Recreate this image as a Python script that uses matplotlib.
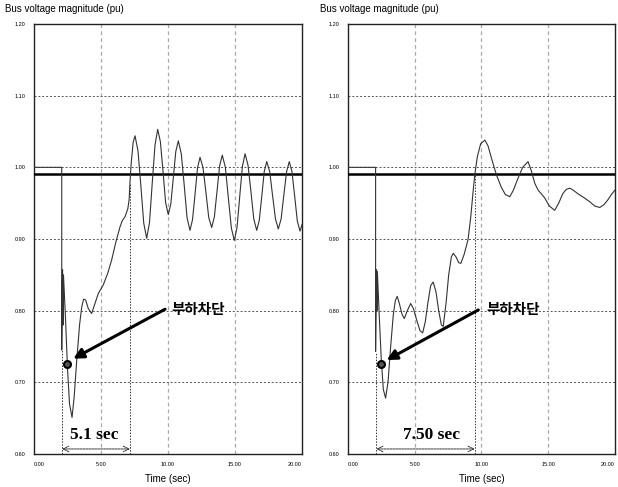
import matplotlib
matplotlib.use("Agg")
import matplotlib.pyplot as plt

# --- Daten ---
t_left = [0.0, 2.07, 2.07, 2.13, 2.17, 2.2, 2.35, 2.5, 2.65, 2.84, 3.0, 3.19, 3.4, 3.56, 3.7, 3.85,
          4.05, 4.3, 4.55, 4.8, 5.17, 5.5, 5.8, 6.1, 6.42, 6.6, 6.79, 7.0, 7.1, 7.16, 7.25, 7.4,
          7.54, 7.76, 7.98, 8.19, 8.41, 8.62, 8.82, 9.03, 9.23, 9.43, 9.63, 9.82, 10.02, 10.21,
          10.40, 10.58, 10.77, 10.99, 11.21, 11.42, 11.64, 11.83, 12.02, 12.20, 12.39, 12.61,
          12.83, 13.04, 13.26, 13.46, 13.66, 13.85, 14.05, 14.28, 14.50, 14.73, 14.95, 15.15,
          15.35, 15.55, 15.75, 15.97, 16.19, 16.40, 16.62, 16.81, 17.00, 17.18, 17.37, 17.59,
          17.80, 18.02, 18.23, 18.44, 18.64, 18.85, 19.05, 19.25, 19.45, 19.65, 19.85, 20.0]
v_left = [1.0, 1.0, 0.745, 0.857, 0.78, 0.85, 0.79, 0.72, 0.67, 0.651, 0.68, 0.731, 0.78, 0.805,
          0.816, 0.815, 0.803, 0.796, 0.81, 0.824, 0.836, 0.852, 0.871, 0.895, 0.917, 0.926,
          0.931, 0.942, 0.955, 0.978, 1.005, 1.035, 1.044, 1.023, 0.973, 0.922, 0.901, 0.923,
          0.977, 1.031, 1.053, 1.036, 0.994, 0.951, 0.934, 0.949, 0.986, 1.022, 1.037, 1.019,
          0.975, 0.930, 0.912, 0.927, 0.963, 0.999, 1.014, 1.000, 0.965, 0.930, 0.916, 0.931,
          0.967, 1.002, 1.017, 1.000, 0.958, 0.915, 0.898, 0.916, 0.959, 1.001, 1.019, 1.003,
          0.966, 0.928, 0.912, 0.926, 0.960, 0.994, 1.008, 0.994, 0.961, 0.928, 0.914, 0.928,
          0.961, 0.994, 1.008, 0.994, 0.960, 0.925, 0.911, 0.92]

t_right = [0.0, 2.07, 2.07, 2.13, 2.17, 2.2, 2.35, 2.5, 2.65, 2.82, 3.0, 3.2, 3.4, 3.55, 3.69, 3.85,
           4.05, 4.22, 4.45, 4.70, 4.9, 5.15, 5.4, 5.6, 5.8, 6.0, 6.2, 6.39, 6.6, 6.8, 7.0, 7.14,
           7.35, 7.55, 7.75, 7.89, 8.1, 8.3, 8.46, 8.7, 9.0, 9.2, 9.39, 9.51, 9.7, 9.95, 10.26,
           10.5, 10.8, 11.14, 11.5, 11.8, 12.13, 12.4, 12.75, 13.1, 13.5, 13.75, 14.0, 14.26,
           14.5, 14.76, 15.1, 15.5, 15.8, 16.1, 16.35, 16.63, 16.9, 17.25, 17.5, 17.75, 18.13,
           18.5, 18.88, 19.2, 19.5, 19.75, 20.0]
v_right = [1.0, 1.0, 0.743, 0.857, 0.80, 0.855, 0.79, 0.73, 0.69, 0.678, 0.70, 0.75, 0.795, 0.814,
           0.82, 0.81, 0.795, 0.789, 0.80, 0.810, 0.803, 0.787, 0.772, 0.769, 0.785, 0.812, 0.835,
           0.84, 0.826, 0.80, 0.78, 0.778, 0.81, 0.85, 0.875, 0.88, 0.875, 0.867, 0.866, 0.878,
           0.899, 0.93, 0.968, 0.99, 1.015, 1.033, 1.038, 1.03, 1.01, 0.989, 0.972, 0.962, 0.959,
           0.968, 0.985, 1.0, 1.008, 0.995, 0.978, 0.968, 0.963, 0.957, 0.946, 0.94, 0.95, 0.963,
           0.969, 0.971, 0.968, 0.963, 0.96, 0.957, 0.952, 0.946, 0.944, 0.948, 0.955, 0.962, 0.968]

ref_level = 0.99
x_ticks = [0, 5, 10, 15, 20]
y_ticks = [0.6, 0.7, 0.8, 0.9, 1.0, 1.1, 1.2]

panels = [
    dict(t=t_left, v=v_left, span=(2.1, 7.16), span_top=(0.745, 0.978), span_text="5.1 sec",
         text_x=4.5, mark=(2.49, 0.726), arrow_from=(9.78, 0.802), arrow_to=(2.93, 0.733),
         label_x=10.27),
    dict(t=t_right, v=v_right, span=(2.12, 9.5), span_top=(0.743, 0.99), span_text="7.50 sec",
         text_x=6.24, mark=(2.47, 0.725), arrow_from=(9.77, 0.801), arrow_to=(2.9, 0.731),
         label_x=10.37),
]

fig = plt.figure(figsize=(6.18, 4.87), dpi=100)
narrow = ["Liberation Sans Narrow", "Liberation Sans", "DejaVu Sans"]
axes_pos = [[0.055, 0.0678, 0.4337, 0.8829], [0.5631, 0.0678, 0.4316, 0.8829]]

for pos, p in zip(axes_pos, panels):
    ax = fig.add_axes(pos)
    ax.set_xlim(0, 20)
    ax.set_ylim(0.6, 1.2)
    for x in x_ticks[1:-1]:
        ax.axvline(x, color="#aaaaaa", lw=0.9, ls=(0, (3, 2.5)), zorder=0)
    for y in y_ticks[1:-1]:
        ax.axhline(y, color="#555555", lw=0.7, ls=(0, (2, 2)), zorder=0)
    ax.set_xticks(x_ticks)
    labels = ax.set_xticklabels([f"{x:.2f}" for x in x_ticks], fontsize=4, family=narrow)
    labels[0].set_ha("left")
    labels[-1].set_ha("right")
    ax.set_yticks(y_ticks)
    ax.set_yticklabels([f"{y:.2f}" for y in y_ticks], fontsize=4, family=narrow)
    ax.tick_params(length=0, pad=6)
    for s in ax.spines.values():
        s.set_color("#222222")
        s.set_linewidth(1.0)

    ax.axhline(ref_level, color="black", lw=1.8, zorder=3)
    ax.plot(p["t"], p["v"], color="#333333", lw=0.8, zorder=4)

    # Zeitspanne
    for x, top in zip(p["span"], p["span_top"]):
        ax.plot([x, x], [0.6, top], color="#333333", lw=0.7, ls=(0, (1.5, 1.5)), zorder=2)
    ax.annotate("", xy=(p["span"][0], 0.607), xytext=(p["span"][1], 0.607),
                arrowprops=dict(arrowstyle="<->", color="#333333", lw=0.7, ls=(0, (2, 1)),
                                shrinkA=0, shrinkB=0))
    ax.text(p["text_x"], 0.626, p["span_text"], ha="center", va="center",
            family=["Liberation Serif", "DejaVu Serif"], fontweight="bold", fontsize=12.5)

    # Lastabwurf-Markierung
    ax.plot(*p["mark"], marker="o", ms=5, mfc="#555555", mec="black", mew=1.5, zorder=6)
    ax.annotate("", xy=p["arrow_to"], xytext=p["arrow_from"],
                arrowprops=dict(arrowstyle="-|>,head_length=0.6,head_width=0.3",
                                color="black", lw=2.2, shrinkA=0, shrinkB=0), zorder=6)
    ax.text(p["label_x"], 0.802, "부하차단", ha="left", va="center",
            family=["Noto Sans CJK KR", "DejaVu Sans"], fontweight="bold", fontsize=10.5)

    ax.set_xlabel("Time (sec)", fontsize=7, family=narrow, labelpad=5)
    ax.text(-0.11 if pos[0] < 0.3 else -0.105, 1.035, "Bus voltage magnitude (pu)",
            transform=ax.transAxes, fontsize=7, family=narrow, ha="left", va="center")

fig.savefig("out.png", dpi=100)
